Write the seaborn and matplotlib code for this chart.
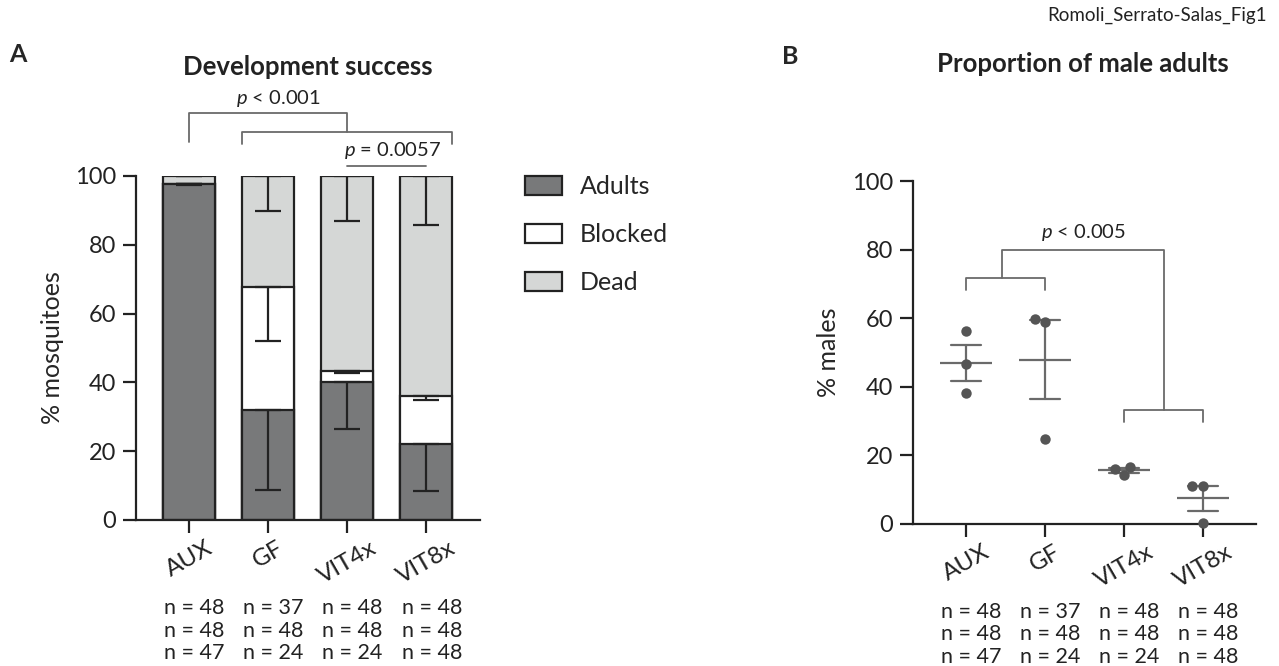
import matplotlib
matplotlib.use("Agg")
import matplotlib.pyplot as plt
from matplotlib.patches import Patch
import numpy as np
import pandas as pd
import seaborn as sns

# ---- data ----
groups = ["AUX", "GF", "VIT4x", "VIT8x"]

adults = [97.8, 32.0, 40.0, 22.0]
blocked = [0.0, 35.7, 3.4, 14.0]
adults_err = [0.4, 23.3, 13.5, 13.7]
blocked_err = [0.0, 15.7, 0.7, 1.0]
dead_err = [0.0, 10.1, 13.0, 14.3]

n_row1 = [48, 37, 48, 48]
n_row2 = [48, 48, 48, 48]
n_row3 = [47, 24, 24, 48]

male_groups = ["AUX"] * 3 + ["GF"] * 3 + ["VIT4x"] * 3 + ["VIT8x"] * 3
male_pct = [56.3, 46.6, 38.1, 59.8, 58.9, 24.9, 14.2, 16.7, 15.9, 11.1, 11.1, 0.2]

# ---- style ----
sns.set_style("ticks")
plt.rcParams["font.family"] = ["Lato", "DejaVu Sans"]
plt.rcParams["mathtext.fontset"] = "custom"
plt.rcParams["mathtext.it"] = "Lato:italic"
plt.rcParams["mathtext.rm"] = "Lato"

ink = "#222222"
dark = "#78797a"
light = "#d5d7d6"
brk = "#6a6a6a"

fig = plt.figure(figsize=(12.79, 6.66), dpi=100)
W, H = 1279, 666
ax_a = fig.add_axes([136 / W, (H - 520) / H, (480 - 136) / W, (520 - 176) / H])
ax_b = fig.add_axes([913 / W, (H - 524) / H, (1256 - 913) / W, (524 - 181) / H])

df = pd.DataFrame({"group": groups, "adults": adults, "blocked": blocked})
df["ab"] = df["adults"] + df["blocked"]
df["total"] = 100.0

bw = 0.66
kw = dict(order=groups, width=bw, edgecolor=ink, linewidth=1.6, ax=ax_a, zorder=2)
sns.barplot(data=df, x="group", y="total", color=light, saturation=1, **kw)
sns.barplot(data=df, x="group", y="ab", color="white", saturation=1, **kw)
sns.barplot(data=df, x="group", y="adults", color=dark, saturation=1, **kw)

xs = np.arange(len(groups))
for tops, errs in [(df["total"], dead_err), (df["ab"], blocked_err), (df["adults"], adults_err)]:
    ax_a.errorbar(xs, tops, yerr=[errs, np.zeros(len(errs))], fmt="none",
                  ecolor=ink, elinewidth=1.6, capsize=9.5, capthick=1.6, zorder=3)

ax_a.set_ylim(0, 100)
ax_a.set_xlim(-0.67, 3.68)
ax_a.set_yticks([0, 20, 40, 60, 80, 100])
ax_a.set_xlabel("")
ax_a.set_ylabel("% mosquitoes", fontsize=18, labelpad=8)

# significance brackets, panel A
lw_b = 1.3
ax_a.plot([0, 0, 2, 2], [110, 118.4, 118.4, 112.8], color=brk, lw=lw_b, clip_on=False)
ax_a.plot([1 - bw / 2, 1 - bw / 2, 3 + bw / 2, 3 + bw / 2], [109.3, 112.8, 112.8, 109.3],
          color=brk, lw=lw_b, clip_on=False)
ax_a.plot([2, 3], [102.9, 102.9], color=brk, lw=lw_b, clip_on=False)
ax_a.text(1.13, 122.6, r"$p$ < 0.001", fontsize=14.5, ha="center", va="center", color=ink)
ax_a.text(2.57, 107.4, r"$p$ = 0.0057", fontsize=14.5, ha="center", va="center", color=ink)

fig.legend(handles=[Patch(facecolor=dark, edgecolor=ink, linewidth=1.6, label="Adults"),
                    Patch(facecolor="white", edgecolor=ink, linewidth=1.6, label="Blocked"),
                    Patch(facecolor=light, edgecolor=ink, linewidth=1.6, label="Dead")],
           loc="upper left", bbox_to_anchor=(502 / W, (H - 153) / H), frameon=False,
           fontsize=18, handlelength=1.5, handleheight=0.8, handletextpad=0.7,
           labelspacing=1.0)

# ---- panel B ----
dfm = pd.DataFrame({"group": male_groups, "pct": male_pct})
sns.pointplot(data=dfm, x="group", y="pct", order=groups, errorbar="se", capsize=0.39,
              markers="_", markersize=37, markeredgewidth=1.6, linestyle="none",
              color=brk, err_kws={"linewidth": 1.6}, ax=ax_b, zorder=2)
sns.swarmplot(data=dfm, x="group", y="pct", order=groups, color="#555555", size=7.5,
              ax=ax_b, zorder=3, clip_on=False)

ax_b.set_ylim(0, 100)
ax_b.set_xlim(-0.67, 3.67)
ax_b.set_yticks([0, 20, 40, 60, 80, 100])
ax_b.set_xlabel("")
ax_b.set_ylabel("% males", fontsize=18, labelpad=8)

ax_b.plot([0, 0, 1, 1], [68.2, 71.6, 71.6, 68.2], color=brk, lw=lw_b, clip_on=False)
ax_b.plot([2, 2, 3, 3], [29.8, 33.2, 33.2, 29.8], color=brk, lw=lw_b, clip_on=False)
ax_b.plot([0.45, 0.45, 2.5, 2.5], [71.6, 80, 80, 33.2], color=brk, lw=lw_b, clip_on=False)
ax_b.text(1.48, 85, r"$p$ < 0.005", fontsize=14.5, ha="center", va="center", color=ink)

for ax in (ax_a, ax_b):
    sns.despine(ax=ax)
    for s in ("left", "bottom"):
        ax.spines[s].set_linewidth(1.6)
        ax.spines[s].set_color(ink)
    ax.tick_params(axis="both", direction="out", length=9.5, width=1.6, color=ink,
                   labelsize=17, labelcolor=ink, pad=5)
    ax.set_xticks(xs)
    ax.set_xticklabels(groups, rotation=30, ha="center", va="top")
    ax.tick_params(axis="x", labelsize=17.5, pad=3)
    for i in xs:
        for r, row in enumerate([n_row1, n_row2, n_row3]):
            ax.text(i + 0.07, -0.256 - 0.066 * r, f"n = {row[i]}", fontsize=15.5,
                    ha="center", va="center", color=ink, transform=ax.get_xaxis_transform())

# titles, panel letters, figure tag
fig.text(308 / W, 1 - 67 / H, "Development success", fontsize=18.5, fontweight="bold",
         ha="center", va="center", color=ink)
fig.text(1083 / W, 1 - 64 / H, "Proportion of male adults", fontsize=18.5, fontweight="bold",
         ha="center", va="center", color=ink)
fig.text(18 / W, 1 - 55 / H, "A", fontsize=18, fontweight="bold", ha="center", va="center")
fig.text(790 / W, 1 - 57 / H, "B", fontsize=18, fontweight="bold", ha="center", va="center")
fig.text(1267 / W, 1 - 15 / H, "Romoli_Serrato-Salas_Fig1", fontsize=13.5, ha="right",
         va="center", color=ink)

fig.savefig("out.png", dpi=100)
